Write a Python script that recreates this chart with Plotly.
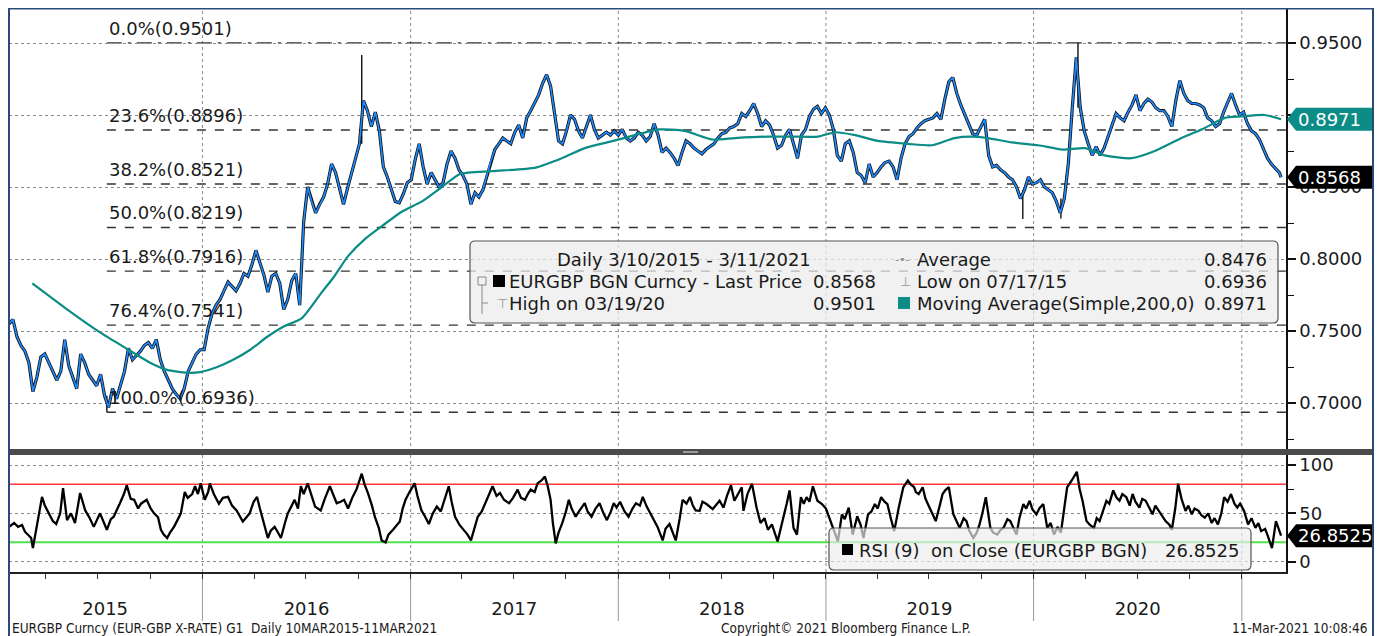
import pandas as pd
import plotly.graph_objects as go

# The page body adds an 8px margin, so the figure's top-left corner sits at (8, 8) on screen.
OFF = 8
W, H = 1384 - OFF, 636 - OFF
FONT = "DejaVu Sans, Verdana, sans-serif"
FONT_NARROW = "DejaVu Sans Condensed, Liberation Sans Narrow, DejaVu Sans, sans-serif"

# ---------------- data ----------------
price_start = "2015-01-26"  # weekly closes, one every 7 days
price_close = [
    0.755, 0.758, 0.746, 0.740, 0.736, 0.728, 0.708, 0.718, 0.732, 0.734,
    0.728, 0.722, 0.716, 0.722, 0.744, 0.726, 0.718, 0.710, 0.734, 0.728,
    0.720, 0.716, 0.712, 0.720, 0.705, 0.697, 0.710, 0.703, 0.712, 0.722,
    0.738, 0.730, 0.733, 0.736, 0.740, 0.742, 0.738, 0.744, 0.730, 0.722,
    0.716, 0.710, 0.706, 0.703, 0.710, 0.722, 0.728, 0.734, 0.737,
    # 2016
    0.737, 0.752, 0.762, 0.768, 0.772, 0.778, 0.784, 0.781, 0.778, 0.783,
    0.790, 0.788, 0.796, 0.806, 0.797, 0.789, 0.777, 0.788, 0.790, 0.783,
    0.765, 0.772, 0.785, 0.790, 0.768, 0.826, 0.850, 0.840, 0.832, 0.838,
    0.843, 0.852, 0.866, 0.860, 0.848, 0.838, 0.849, 0.860, 0.869, 0.880,
    0.910, 0.903, 0.892, 0.902, 0.889, 0.864, 0.857, 0.848, 0.840, 0.839, 0.845, 0.853,
    # 2017
    0.855, 0.869, 0.880, 0.864, 0.852, 0.860, 0.855, 0.850, 0.853, 0.866,
    0.875, 0.870, 0.862, 0.858, 0.852, 0.838, 0.846, 0.843, 0.848, 0.858,
    0.868, 0.876, 0.880, 0.884, 0.882, 0.880, 0.888, 0.893, 0.884, 0.898,
    0.903, 0.908, 0.914, 0.922, 0.928, 0.920, 0.902, 0.882, 0.880, 0.889,
    0.900, 0.897, 0.889, 0.884, 0.892, 0.900, 0.890, 0.884, 0.886, 0.888, 0.886, 0.889,
    # 2018
    0.886, 0.890, 0.884, 0.882, 0.884, 0.888, 0.886, 0.882, 0.885, 0.894,
    0.886, 0.874, 0.877, 0.874, 0.870, 0.865, 0.874, 0.882, 0.880, 0.877,
    0.875, 0.873, 0.876, 0.878, 0.880, 0.884, 0.887, 0.888, 0.891, 0.892,
    0.894, 0.901, 0.899, 0.903, 0.908, 0.901, 0.892, 0.896, 0.893, 0.886,
    0.877, 0.879, 0.886, 0.890, 0.880, 0.870, 0.886, 0.890, 0.899, 0.904, 0.906, 0.901, 0.905,
    # 2019
    0.900, 0.890, 0.872, 0.868, 0.880, 0.882, 0.874, 0.860, 0.858, 0.853,
    0.866, 0.857, 0.860, 0.864, 0.867, 0.868, 0.864, 0.855, 0.870, 0.880,
    0.885, 0.887, 0.891, 0.894, 0.896, 0.897, 0.898, 0.901, 0.897, 0.911,
    0.923, 0.926, 0.915, 0.907, 0.900, 0.894, 0.887, 0.886, 0.891, 0.897,
    0.872, 0.864, 0.865, 0.862, 0.860, 0.857, 0.855, 0.850, 0.842, 0.848, 0.857, 0.852,
    # 2020
    0.853, 0.855, 0.850, 0.848, 0.846, 0.840, 0.832, 0.842, 0.866, 0.905,
    0.940, 0.905, 0.889, 0.880, 0.872, 0.878, 0.872, 0.877, 0.885, 0.894,
    0.901, 0.898, 0.896, 0.902, 0.907, 0.914, 0.903, 0.908, 0.911, 0.909,
    0.905, 0.903, 0.903, 0.899, 0.892, 0.910, 0.924, 0.915, 0.910, 0.908,
    0.908, 0.907, 0.905, 0.898, 0.896, 0.892, 0.894, 0.902, 0.908, 0.915, 0.907, 0.900,
    # 2021
    0.902, 0.894, 0.889, 0.887, 0.883, 0.877, 0.870, 0.866, 0.863, 0.860,
]
last_date = "2021-03-11"
last_price = 0.8568

# notable daily wicks (low / high)
wick_dates = ["2015-07-17", "2016-10-07", "2019-12-13", "2020-02-18", "2020-03-19"]
wick_lows = [0.6936, 0.880, 0.8277, 0.8282, 0.905]
wick_highs = [0.705, 0.9417, 0.848, 0.842, 0.9501]

ma_dates = [
    "2015-03-08", "2015-05-08", "2015-07-05", "2015-08-24", "2015-10-01", "2015-10-31", "2015-12-05", "2015-12-28",
    "2016-01-27", "2016-02-24", "2016-03-25", "2016-04-24", "2016-05-22", "2016-06-24", "2016-07-29", "2016-08-18",
    "2016-09-13", "2016-10-13", "2016-11-12", "2016-12-17",
    "2017-01-21", "2017-02-25", "2017-03-29", "2017-05-24", "2017-08-09", "2017-09-24", "2017-11-03", "2017-12-23",
    "2018-01-30", "2018-03-13", "2018-04-28", "2018-06-15", "2018-07-25", "2018-09-21", "2018-11-02", "2018-12-18",
    "2019-01-17", "2019-02-21", "2019-04-02", "2019-05-25", "2019-07-06", "2019-08-15", "2019-09-14", "2019-10-12",
    "2019-11-24",
    "2020-01-09", "2020-02-21", "2020-03-31", "2020-05-05", "2020-06-21", "2020-08-01", "2020-09-17", "2020-10-28",
    "2020-12-02", "2020-12-31",
    "2021-02-10", "2021-03-11",
]
ma_values = [
    0.783, 0.765, 0.749, 0.737, 0.728, 0.723, 0.721, 0.7215,
    0.725, 0.730, 0.737, 0.746, 0.753, 0.759, 0.777, 0.787, 0.802, 0.814, 0.823, 0.833,
    0.840, 0.850, 0.859, 0.861, 0.8635, 0.870, 0.877, 0.882,
    0.886, 0.890, 0.889, 0.883, 0.884, 0.885, 0.885, 0.885,
    0.888, 0.886, 0.882, 0.880, 0.879, 0.884, 0.885, 0.884, 0.881,
    0.879, 0.876, 0.877, 0.872, 0.870, 0.875, 0.884, 0.891, 0.898, 0.899,
    0.900, 0.8971,
]
ma_last = 0.8971
average_value = 0.8476
low_value, low_date_txt = 0.6936, "07/17/15"
high_value, high_date_txt = 0.9501, "03/19/20"

fib_pct = [0.0, 23.6, 38.2, 50.0, 61.8, 76.4, 100.0]
fib_val = [0.9501, 0.8896, 0.8521, 0.8219, 0.7916, 0.7541, 0.6936]
fib_start = "2015-07-17"

rsi_start = "2015-01-26"
rsi_day = [
    0, 9, 16, 23, 28, 39, 42, 49, 58, 63, 70, 77, 83, 90, 95, 102, 109, 116, 125, 134,
    142, 149, 160, 167, 172, 179, 184, 195, 202, 207, 214, 220, 227, 232, 242, 249, 255, 262, 267, 272,
    278, 283, 290, 297, 302, 309, 314, 322, 327, 332, 337, 344, 350, 353, 360, 369, 376, 385, 392, 400,
    411, 416, 423, 430, 436, 441, 446, 455, 460, 467, 473, 478, 485, 490, 497, 502, 508, 513, 518, 525,
    532, 538, 548, 555, 564, 571, 576, 583, 589, 596, 604, 611, 620, 625, 631, 638, 643, 650, 655, 662,
    667, 675, 682, 687, 692, 697, 704, 713, 718, 725, 731, 738, 745, 752, 759, 766, 773, 778, 784, 792,
    799, 806, 812, 819, 824, 831, 840, 845, 850, 857, 863, 870, 879, 886, 894, 900, 907, 912, 917, 924,
    929, 936, 942, 947, 952, 956, 961, 966, 972, 979, 984, 989, 996, 1003, 1012, 1017, 1024, 1031, 1038, 1045,
    1051, 1058, 1063, 1068, 1074, 1082, 1089, 1096, 1102, 1109, 1114, 1121, 1130, 1135, 1140, 1149, 1154, 1161, 1167, 1172,
    1179, 1184, 1191, 1197, 1202, 1207, 1214, 1219, 1226, 1237, 1249, 1256, 1262, 1269, 1275, 1281, 1288, 1291, 1298, 1306,
    1314, 1321, 1328, 1334, 1341, 1351, 1360, 1367, 1372, 1379, 1385, 1392, 1397, 1402, 1407, 1413, 1421, 1429, 1436, 1441,
    1449, 1457, 1464, 1469, 1476, 1483, 1491, 1497, 1502, 1510, 1516, 1522, 1527, 1533, 1539, 1544, 1550, 1556, 1564, 1572,
    1580, 1585, 1591, 1594, 1599, 1606, 1611, 1618, 1623, 1629, 1636, 1641, 1646, 1652, 1660, 1666, 1671, 1678, 1683, 1688,
    1695, 1701, 1706, 1711, 1717, 1725, 1730, 1737, 1743, 1748, 1755, 1760, 1766, 1771, 1776, 1783, 1788, 1794, 1799, 1806,
    1811, 1818, 1825, 1831, 1837, 1843, 1849, 1854, 1860, 1868, 1877, 1882, 1887, 1894, 1900, 1907, 1912, 1917, 1924, 1929,
    1934, 1941, 1947, 1952, 1957, 1964, 1970, 1975, 1980, 1987, 1992, 1998, 2005, 2010, 2015, 2021, 2027, 2033, 2040, 2044,
    2050, 2055, 2061, 2068, 2073, 2079, 2084, 2091, 2096, 2102, 2108, 2114, 2119, 2125, 2131, 2136, 2142, 2148, 2154, 2159,
    2164, 2171, 2178, 2184, 2191, 2196, 2201, 2208, 2213, 2220, 2227, 2233, 2236,
]
rsi_val = [
    36, 40, 36, 38, 31, 24.5, 14, 36, 67, 58, 50, 42, 39, 50, 76, 43, 50, 40, 71, 53,
    45, 36, 50, 40, 33, 44, 46.5, 60.5, 70, 79, 65, 64, 55, 60, 64, 55, 50, 46, 33, 28,
    24.5, 30, 36, 44, 50, 72, 66, 70, 78, 70, 81, 64, 72, 81, 70, 60, 66, 67, 58, 53,
    41.5, 45, 50, 62, 67, 55, 43, 24.5, 32, 36, 30, 24.5, 40, 50, 58, 64, 55, 78, 70, 81,
    68, 57, 53, 65, 78, 68, 60.5, 62, 64, 55, 67, 75, 91, 80, 71, 58, 46.5, 35, 22, 20,
    28, 33, 38, 41.5, 55, 64, 72, 81, 68, 53, 47, 39, 50, 57, 52, 65, 78, 62, 46.5, 38,
    33, 28, 22, 35, 46.5, 52, 64, 70, 78, 68, 71, 64, 60.5, 66, 74.5, 66, 64, 70, 74.5, 72,
    81, 84, 88, 78, 64, 40, 19, 30, 39, 52, 64, 55, 46.5, 53, 60.5, 52, 46.5, 55, 60.5, 50,
    43, 52, 60.5, 56, 62, 52, 46.5, 55, 60.5, 58, 67, 57, 46.5, 42, 36, 22, 34, 39, 30, 22,
    45, 64, 60, 67, 58, 53, 52.6, 62, 59.6, 54.4, 63, 56, 68, 79, 63, 70, 77, 52.6, 70, 80.7,
    56, 40, 45, 33, 38.6, 21, 42, 60, 73.7, 35, 28, 66.7, 60, 66.7, 62, 78, 63, 59.6, 55, 47,
    35, 21, 49, 44, 56, 28, 47, 38, 24.6, 49, 52, 59.6, 55, 66.7, 62, 59.6, 45, 31.6, 56, 77,
    84, 80, 77, 72, 70, 77, 65, 56, 48, 42, 58, 70, 74, 77, 49, 42, 35, 45, 42, 32,
    24.6, 30, 38.6, 50, 66.7, 35, 30, 28, 33, 35, 44, 42, 34, 28, 45, 59.6, 55, 63, 54, 49,
    55, 59.6, 35, 40, 28, 36, 30, 50, 77, 84, 93, 75, 63, 42, 38, 35, 45, 42, 55, 63,
    60, 73.7, 66, 63, 70, 66.7, 58, 70, 62, 56, 65, 63, 55, 49, 58, 52.6, 46, 42, 38, 33,
    55, 80.7, 65, 52.6, 58, 49, 55, 52.6, 48, 45.6, 50, 40, 45, 38.6, 50, 66.7, 62, 70, 60, 56,
    60, 52.6, 38.6, 45, 35, 40, 31.6, 34, 26.3, 14, 42, 31.6, 26.85,
]
rsi_last = 26.8525
rsi_upper, rsi_lower = 80, 20

year_starts = ["2016-01-01", "2017-01-01", "2018-01-01", "2019-01-01", "2020-01-01", "2021-01-01"]
year_label_dates = ["2015-07-14", "2016-07-02", "2017-07-02", "2018-07-02", "2019-07-02", "2020-07-02"]
year_labels = ["2015", "2016", "2017", "2018", "2019", "2020"]

price_ticks = [0.70, 0.75, 0.80, 0.85, 0.90, 0.95]
price_tick_text = ["0.7000", "0.7500", "0.8000", "0.8500", "", "0.9500"]  # 0.9000 sits under the MA tag
price_minor = [0.675, 0.725, 0.775, 0.825, 0.875, 0.925]
rsi_ticks = [0, 50, 100]
rsi_minor = [25, 75]

X_RANGE = ["2015-01-26", "2021-03-19 16:00"]
Y_RANGE = [0.66806, 0.97431]
Y2_RANGE = [-10.65, 110.34]

# ---------------- colours ----------------
BLUE = "#1e8cff"
TEAL = "#0b8c86"
TXT = "#1a1a1a"
GRID = "#8a8a8a"
NAVY = "#2a4a7c"


def px(x):  # screen pixel -> paper fraction
    return (x - OFF) / W


def py(y):
    return 1 - (y - OFF) / H


X_DOM = [px(9), px(1286)]
Y_DOM = [py(449), py(8)]
Y2_DOM = [py(572), py(455)]

# ---------------- traces ----------------
base = pd.Timestamp(price_start)
p_dates = list(pd.date_range(base, periods=len(price_close), freq="7D")) + [pd.Timestamp(last_date)]
p_vals = price_close + [last_price]
r_dates = [pd.Timestamp(rsi_start) + pd.Timedelta(days=d) for d in rsi_day]

wx, wy = [], []
for d, lo, hi in zip(wick_dates, wick_lows, wick_highs):
    wx += [d, d, None]
    wy += [lo, hi, None]

fig = go.Figure()
fig.add_trace(go.Scatter(x=p_dates, y=p_vals, mode="lines", line=dict(color="#111111", width=3.2),
                         xaxis="x", yaxis="y", hoverinfo="skip", showlegend=False))
fig.add_trace(go.Scatter(x=wx, y=wy, mode="lines", line=dict(color="#111111", width=1.4),
                         xaxis="x", yaxis="y", hoverinfo="skip", showlegend=False))
fig.add_trace(go.Scatter(x=p_dates, y=p_vals, mode="lines", line=dict(color=BLUE, width=1.6),
                         xaxis="x", yaxis="y", hoverinfo="skip", showlegend=False))
fig.add_trace(go.Scatter(x=ma_dates, y=ma_values, mode="lines",
                         line=dict(color=TEAL, width=2.2, shape="spline", smoothing=0.6),
                         xaxis="x", yaxis="y", hoverinfo="skip", showlegend=False))
fig.add_trace(go.Scatter(x=r_dates, y=rsi_val, mode="lines", line=dict(color="black", width=2.3),
                         xaxis="x2", yaxis="y2", hoverinfo="skip", showlegend=False))

# ---------------- shapes ----------------
shapes = []

# vertical year gridlines (dotted) across both panels, plus solid separators under the axis
for d in year_starts:
    shapes.append(dict(type="line", xref="x", yref="paper", x0=d, x1=d, y0=py(572), y1=py(8),
                       line=dict(color=GRID, width=1, dash="dot"), layer="below"))
    shapes.append(dict(type="line", xref="x", yref="paper", x0=d, x1=d, y0=py(572), y1=py(621),
                       line=dict(color="#9a9a9a", width=1), layer="below"))

# fibonacci levels
for p, v in zip(fib_pct, fib_val):
    shapes.append(dict(type="line", xref="x", yref="y", x0=fib_start, x1=X_RANGE[1], y0=v, y1=v,
                       line=dict(color="#333333", width=1.4, dash="longdashdot" if p == 0 else "dash"),
                       layer="below"))

# RSI bands
shapes.append(dict(type="line", xref="paper", yref="y2", x0=X_DOM[0], x1=X_DOM[1], y0=rsi_upper, y1=rsi_upper,
                   line=dict(color="#ff3838", width=1.5), layer="below"))
shapes.append(dict(type="line", xref="paper", yref="y2", x0=X_DOM[0], x1=X_DOM[1], y0=rsi_lower, y1=rsi_lower,
                   line=dict(color="#4fe04f", width=2), layer="below"))


def rrect(x0, y0, x1, y1, r=5):
    X0, X1 = px(x0), px(x1)
    T, B = py(y0), py(y1)
    rx, ry = r / W, r / H
    return (f"M{X0+rx},{T} L{X1-rx},{T} Q{X1},{T} {X1},{T-ry} L{X1},{B+ry} Q{X1},{B} {X1-rx},{B} "
            f"L{X0+rx},{B} Q{X0},{B} {X0},{B+ry} L{X0},{T-ry} Q{X0},{T} {X0+rx},{T} Z")


# legend boxes
shapes.append(dict(type="path", xref="paper", yref="paper", path=rrect(470, 241, 1278, 323),
                   fillcolor="rgba(236,236,236,0.72)", line=dict(color="#555555", width=1.2)))
shapes.append(dict(type="path", xref="paper", yref="paper", path=rrect(829, 528, 1251, 570),
                   fillcolor="rgba(238,238,238,0.68)", line=dict(color="#555555", width=1.2)))

# legend icons
shapes.append(dict(type="rect", xref="paper", yref="paper", x0=px(493), x1=px(505), y0=py(287), y1=py(275),
                   fillcolor="black", line=dict(width=0)))
shapes.append(dict(type="rect", xref="paper", yref="paper", x0=px(898), x1=px(910), y0=py(309), y1=py(297),
                   fillcolor=TEAL, line=dict(width=0)))
shapes.append(dict(type="rect", xref="paper", yref="paper", x0=px(478), x1=px(486), y0=py(285), y1=py(277),
                   fillcolor="rgba(0,0,0,0)", line=dict(color="#888888", width=1)))
shapes.append(dict(type="line", xref="paper", yref="paper", x0=px(482), x1=px(482), y0=py(285), y1=py(314),
                   line=dict(color="#888888", width=1)))
shapes.append(dict(type="line", xref="paper", yref="paper", x0=px(482), x1=px(488), y0=py(303), y1=py(303),
                   line=dict(color="#888888", width=1)))
shapes.append(dict(type="rect", xref="paper", yref="paper", x0=px(842), x1=px(853), y0=py(555), y1=py(544),
                   fillcolor="black", line=dict(width=0)))

# panel separator
shapes.append(dict(type="rect", xref="paper", yref="paper", x0=px(9), x1=px(1373), y0=py(455), y1=py(449),
                   fillcolor="#4b4b4b", line=dict(width=0)))
shapes.append(dict(type="rect", xref="paper", yref="paper", x0=px(683), x1=px(698), y0=py(453), y1=py(451),
                   fillcolor="#9a9a9a", line=dict(width=0)))


# value tags on the right axis
def tag(val, half):
    t, b, r = px(1287), px(1296), px(1373)
    return f"M{t},{val} L{b},{val+half} L{r},{val+half} L{r},{val-half} L{b},{val-half} Z"


half_main = 11.5 * (Y_RANGE[1] - Y_RANGE[0]) / 441
half_rsi = 11.5 * (Y2_RANGE[1] - Y2_RANGE[0]) / 117
shapes.append(dict(type="path", xref="paper", yref="y", path=tag(ma_last, half_main),
                   fillcolor=TEAL, line=dict(width=0)))
shapes.append(dict(type="path", xref="paper", yref="y", path=tag(last_price, half_main),
                   fillcolor="black", line=dict(width=0)))
shapes.append(dict(type="path", xref="paper", yref="y2", path=tag(rsi_last, half_rsi),
                   fillcolor="black", line=dict(width=0)))

# outer frame
shapes.append(dict(type="rect", xref="paper", yref="paper", x0=px(9), x1=px(1373), y0=py(650), y1=py(8.5),
                   line=dict(color=NAVY, width=2), fillcolor="rgba(0,0,0,0)"))

# ---------------- annotations ----------------
ann = []


def txt(x, y, s, size=18, anchor="left", color=TXT, family=FONT, yref="paper"):
    return dict(x=px(x), y=(py(y) if yref == "paper" else y), xref="paper", yref=yref, text=s,
                showarrow=False, xanchor=anchor, yanchor="middle",
                font=dict(family=family, size=size, color=color))


for p, v in zip(fib_pct, fib_val):
    ann.append(dict(x=fib_start, y=v, xref="x", yref="y", text=f"{p:.1f}%({v:.4f})", showarrow=False,
                    xanchor="left", yanchor="bottom", xshift=0, yshift=2,
                    font=dict(family=FONT, size=18, color=TXT)))

# main legend
ann += [
    txt(684, 259, "Daily 3/10/2015 - 3/11/2021", anchor="center"),
    txt(507, 281, "EURGBP BGN Curncy - Last Price"),
    txt(878, 281, f"{last_price:.4f}", anchor="right"),
    txt(507, 303, f"High on {high_date_txt}"),
    txt(878, 303, f"{high_value:.4f}", anchor="right"),
    txt(495, 303, "⊤", size=13, color="#9a9a9a"),
    txt(893, 259, "-•-", size=11, color="#8a8a8a"),
    txt(915, 259, "Average"),
    txt(1269, 259, f"{average_value:.4f}", anchor="right"),
    txt(898, 281, "⊥", size=13, color="#9a9a9a"),
    txt(915, 281, f"Low on {low_date_txt}"),
    txt(1269, 281, f"{low_value:.4f}", anchor="right"),
    txt(915, 303, "Moving Average(Simple,200,0)"),
    txt(1269, 303, f"{ma_last:.4f}", anchor="right"),
]
# RSI legend
ann += [
    txt(857, 550, "RSI (9)  on Close (EURGBP BGN)"),
    txt(1241, 550, f"{rsi_last:.4f}", anchor="right"),
]
# right tags text
ann += [
    txt(1296, ma_last, f"{ma_last:.4f}", color="white", yref="y"),
    txt(1296, last_price, f"{last_price:.4f}", color="white", yref="y"),
    txt(1296, rsi_last, f"{rsi_last:.4f}", color="white", yref="y2"),
]
# footer
ann += [
    txt(10, 628, "EURGBP Curncy (EUR-GBP X-RATE) G1  Daily 10MAR2015-11MAR2021", size=13.5, family=FONT_NARROW),
    txt(846, 628, "Copyright© 2021 Bloomberg Finance L.P.", size=13.5, anchor="center", family=FONT_NARROW),
    txt(1370, 628, "11-Mar-2021 10:08:46", size=13.5, anchor="right", family=FONT_NARROW),
]

# ---------------- layout ----------------
axis_font = dict(family=FONT, size=18, color=TXT)
fig.update_layout(
    width=W, height=H, autosize=False,
    margin=dict(l=0, r=0, t=0, b=0, pad=0),
    paper_bgcolor="white", plot_bgcolor="rgba(0,0,0,0)",
    showlegend=False,
    shapes=shapes, annotations=ann,
    xaxis=dict(domain=X_DOM, anchor="y", type="date", range=X_RANGE, showticklabels=False,
               ticks="", showgrid=False, zeroline=False, showline=False, automargin=False),
    xaxis2=dict(domain=X_DOM, anchor="y2", type="date", range=X_RANGE, matches="x",
                tickmode="array", tickvals=year_label_dates, ticktext=year_labels, ticks="",
                tickfont=axis_font, ticklabelstandoff=20,
                minor=dict(tickmode="linear", tick0="2015-01-01", dtick="M3", ticks="outside",
                           ticklen=5, tickwidth=1, tickcolor="#333333", showgrid=False),
                showgrid=False, zeroline=False, showline=True, linecolor="#222222", linewidth=1.5,
                automargin=False),
    yaxis=dict(domain=Y_DOM, anchor="x", side="right", range=Y_RANGE,
               tickmode="array", tickvals=price_ticks, ticktext=price_tick_text,
               ticks="outside", ticklen=8, tickwidth=2, tickcolor="#111111", tickfont=axis_font,
               minor=dict(tickmode="array", tickvals=price_minor, ticks="outside", ticklen=6,
                          tickwidth=1, tickcolor="#111111", showgrid=False),
               showgrid=True, gridcolor=GRID, griddash="dot", gridwidth=1,
               zeroline=False, showline=True, linecolor="#111111", linewidth=1.5, automargin=False),
    yaxis2=dict(domain=Y2_DOM, anchor="x2", side="right", range=Y2_RANGE,
                tickmode="array", tickvals=rsi_ticks, ticktext=[str(v) for v in rsi_ticks],
                ticks="outside", ticklen=8, tickwidth=2, tickcolor="#111111", tickfont=axis_font,
                minor=dict(tickmode="array", tickvals=rsi_minor, ticks="outside", ticklen=6,
                           tickwidth=1, tickcolor="#111111", showgrid=False),
                showgrid=True, gridcolor=GRID, griddash="dot", gridwidth=1,
                zeroline=False, showline=True, linecolor="#111111", linewidth=1.5, automargin=False),
)

fig.write_html("out.html")
